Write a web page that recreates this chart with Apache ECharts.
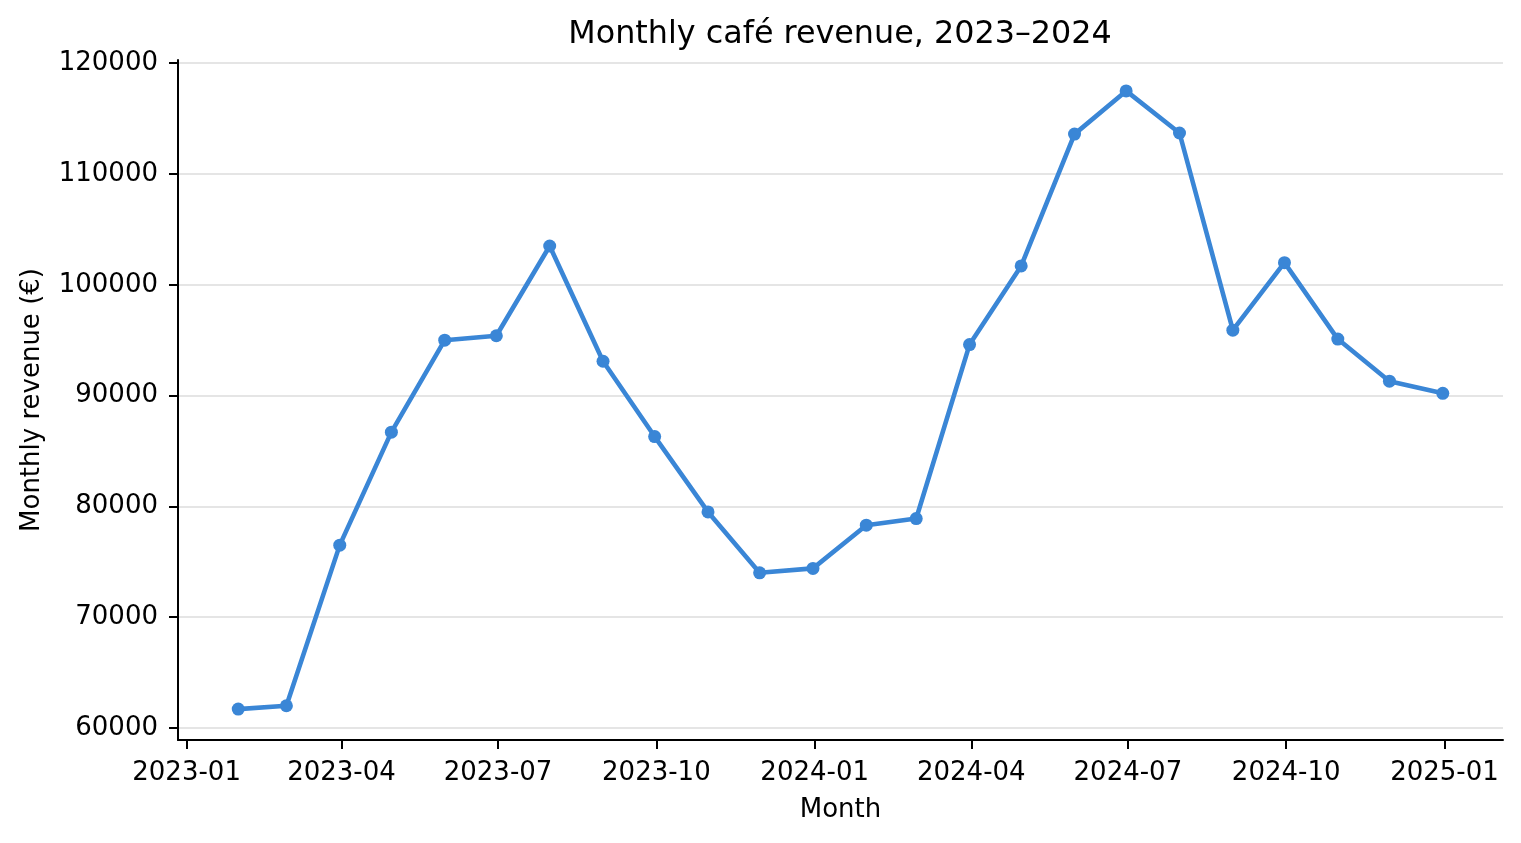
<!DOCTYPE html>
<html>
<head>
<meta charset="utf-8">
<script src="https://cdn.jsdelivr.net/npm/echarts@6/dist/echarts.min.js"></script>
<style>
html,body{margin:0;padding:0;background:#fff;}
#chart{width:1521px;height:843px;}
</style>
</head>
<body>
<div id="chart"></div>
<script>
// Month-end dates of each observation
const months = [
  '2023-01-31','2023-02-28','2023-03-31','2023-04-30','2023-05-31','2023-06-30',
  '2023-07-31','2023-08-31','2023-09-30','2023-10-31','2023-11-30','2023-12-31',
  '2024-01-31','2024-02-29','2024-03-31','2024-04-30','2024-05-31','2024-06-30',
  '2024-07-31','2024-08-31','2024-09-30','2024-10-31','2024-11-30','2024-12-31'
];
// Monthly revenue (€)
const revenue = [
  61700, 62000, 76500, 86700, 95000, 95400,
  103500, 93100, 86300, 79500, 74000, 74400,
  78300, 78900, 94600, 101700, 113600, 117500,
  113700, 95900, 102000, 95100, 91300, 90200
];
// Tick labels
const xTickLabels = ['2023-01','2023-04','2023-07','2023-10','2024-01','2024-04','2024-07','2024-10','2025-01'];
const yTickValues = [60000, 70000, 80000, 90000, 100000, 110000, 120000];

function toTs(s){
  const p = s.split('-').map(Number);
  return Date.UTC(p[0], p[1]-1, p[2] || 1);
}
function fmt(ts){
  const d = new Date(ts);
  const m = d.getUTCMonth()+1;
  return d.getUTCFullYear() + '-' + (m < 10 ? '0' + m : m);
}

const xs = months.map(toTs);
const seriesData = xs.map((x, i) => [x, revenue[i]]);
const xTicks = xTickLabels.map(toTs);

// matplotlib-style 5% padding
const xMinD = Math.min(...xs), xMaxD = Math.max(...xs);
const yMinD = Math.min(...revenue), yMaxD = Math.max(...revenue);
const xPad = (xMaxD - xMinD) * 0.05;
const yPad = (yMaxD - yMinD) * 0.05;

const FONT = 'DejaVu Sans';
const chart = echarts.init(document.getElementById('chart'), null, {renderer: 'canvas'});
chart.setOption({
  backgroundColor: '#ffffff',
  animation: false,
  title: {
    text: 'Monthly café revenue, 2023–2024',
    left: 840,
    top: 19,
    padding: 0,
    textAlign: 'center',
    textStyle: {fontFamily: FONT, fontSize: 31.8, fontWeight: 'normal', color: '#000'}
  },
  grid: {left: 178, right: 18, top: 60, bottom: 103, containLabel: false},
  xAxis: {
    type: 'value',
    min: xMinD - xPad,
    max: xMaxD + xPad,
    name: 'Month',
    nameLocation: 'middle',
    nameGap: 57,
    nameTextStyle: {fontFamily: FONT, fontSize: 26, color: '#000'},
    axisLine: {show: true, onZero: false, lineStyle: {color: '#000', width: 2}},
    axisTick: {show: true, length: 9, lineStyle: {color: '#000', width: 2}, customValues: xTicks},
    axisLabel: {
      show: true, margin: 20, fontFamily: FONT, fontSize: 26, color: '#000',
      customValues: xTicks,
      formatter: v => fmt(v)
    },
    splitLine: {show: false}
  },
  yAxis: {
    type: 'value',
    min: yMinD - yPad,
    max: yMaxD + yPad,
    name: 'Monthly revenue (€)',
    nameLocation: 'middle',
    nameGap: 133,
    nameTextStyle: {fontFamily: FONT, fontSize: 26, color: '#000'},
    axisLine: {show: true, lineStyle: {color: '#000', width: 2}},
    axisTick: {show: true, length: 9, lineStyle: {color: '#000', width: 2}, customValues: yTickValues},
    axisLabel: {
      show: true, margin: 20, fontFamily: FONT, fontSize: 26, color: '#000',
      customValues: yTickValues,
      formatter: v => String(v)
    },
    splitLine: {show: true, lineStyle: {color: '#e5e5e5', width: 2}}
  },
  series: [{
    type: 'line',
    data: seriesData,
    showAllSymbol: true,
    symbol: 'circle',
    symbolSize: 13,
    lineStyle: {color: '#3a86d6', width: 4.6},
    itemStyle: {color: '#3a86d6'},
    emphasis: {disabled: true}
  }]
});
</script>
</body>
</html>
